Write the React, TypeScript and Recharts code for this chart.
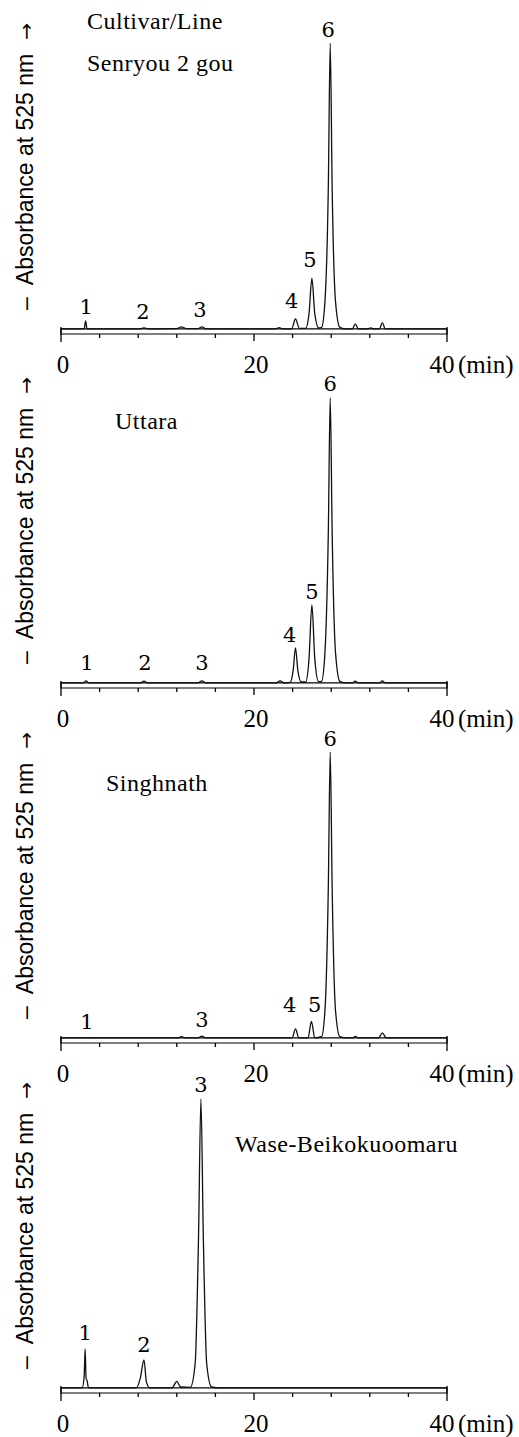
import { ComposedChart, Line, Scatter, XAxis, YAxis, ReferenceArea } from 'recharts';

const xTicks = [0, 4, 8, 12, 16, 20, 24, 28, 32, 36, 40];
const xTickLabels: Record<number, string> = { 0: '0', 20: '20', 40: '40' };
const xUnitLabel = '(min)';
const yAxisTitle = 'Absorbance at 525 nm';

// Senryou 2 gou
const senryouTime = [0, 2.4, 2.55, 2.7, 8.2, 8.6, 9.0, 12.0, 12.5, 13.0, 14.2, 14.6, 15.0, 22.2, 22.6, 23.0, 23.9, 24.3, 24.7, 25.35, 25.7, 26.0, 26.3, 26.7, 27.0, 27.35, 27.7, 27.9, 28.1, 28.45, 28.9, 29.4, 30.2, 30.5, 30.8, 31.8, 32.1, 32.4, 33.0, 33.3, 33.6, 40];
const senryouAbs = [0, 0, 2.7, 0, 0, 0.3, 0, 0.1, 0.7, 0.1, 0.1, 0.7, 0, 0, 0.4, 0, 0, 3.3, 0.2, 0.2, 5, 16.9, 5, 0.3, 0.5, 9, 47, 95.2, 47, 9, 0.5, 0, 0, 1.7, 0, 0, 0.3, 0, 0, 2.1, 0, 0];
const senryouPeakNo = ['1', '2', '3', '4', '5', '6'];
const senryouPeakTime = [2.6, 8.5, 14.4, 23.9, 25.8, 27.7];
const senryouPeakLabelY = [7.3, 5.7, 6.3, 9.3, 23, 99.7];

// Uttara
const uttaraTime = [0, 2.3, 2.6, 2.9, 8.2, 8.6, 9.0, 14.2, 14.6, 15.0, 22.3, 22.7, 23.1, 23.75, 24.05, 24.3, 24.55, 24.9, 25.35, 25.7, 26.0, 26.3, 26.7, 27.0, 27.35, 27.7, 27.9, 28.1, 28.45, 28.9, 29.4, 30.2, 30.5, 30.8, 33.0, 33.3, 33.6, 40];
const uttaraAbs = [0, 0, 0.7, 0, 0, 0.6, 0, 0, 0.7, 0, 0, 0.7, 0, 0.2, 4, 11.7, 4, 0.3, 0.3, 8, 26, 8, 0.4, 0.5, 10, 50, 95, 50, 10, 0.5, 0, 0, 0.6, 0, 0, 0.7, 0, 0];
const uttaraPeakNo = ['1', '2', '3', '4', '5', '6'];
const uttaraPeakTime = [2.7, 8.7, 14.6, 23.7, 26.0, 27.9];
const uttaraPeakLabelY = [6.7, 6.7, 6.7, 16, 30.3, 99.7];

// Singhnath
const singhnathTime = [0, 12.1, 12.5, 12.9, 14.2, 14.6, 15.0, 23.95, 24.3, 24.65, 25.6, 25.95, 26.3, 27.0, 27.35, 27.7, 27.9, 28.1, 28.45, 28.9, 29.4, 30.2, 30.5, 30.8, 32.9, 33.3, 33.7, 40];
const singhnathAbs = [0, 0, 0.4, 0, 0, 0.6, 0, 0, 3, 0, 0, 5.5, 0, 0.4, 9, 50, 95.3, 50, 9, 0.4, 0, 0, 0.5, 0, 0, 1.7, 0, 0];
const singhnathPeakNo = ['1', '3', '4', '5', '6'];
const singhnathPeakTime = [2.7, 14.6, 23.7, 26.3, 27.9];
const singhnathPeakLabelY = [5.3, 6, 11, 11, 99.7];

// Wase-Beikokuoomaru
const waseTime = [0, 2.2, 2.4, 2.5, 2.6, 2.7, 2.85, 7.8, 8.2, 8.6, 8.85, 9.2, 11.5, 12.0, 12.4, 13.4, 13.9, 14.25, 14.5, 14.75, 15.1, 15.6, 16.5, 40];
const waseAbs = [0, 0, 4, 13, 3, 2.5, 0, 0, 3, 9.3, 2, 0, 0, 2.2, 0.3, 0.2, 8, 50, 96.3, 50, 8, 0.3, 0, 0];
const wasePeakNo = ['1', '2', '3'];
const wasePeakTime = [2.5, 8.6, 14.5];
const wasePeakLabelY = [18.3, 14.3, 101];

const toRows = (t: number[], a: number[]) => t.map((v, i) => ({ t: v, a: a[i] }));
const toLabels = (ids: string[], t: number[], y: number[]) =>
  ids.map((id, i) => ({ t: t[i], y: y[i], id }));

const panels = [
  { top: 0, rows: toRows(senryouTime, senryouAbs), labels: toLabels(senryouPeakNo, senryouPeakTime, senryouPeakLabelY) },
  { top: 354, rows: toRows(uttaraTime, uttaraAbs), labels: toLabels(uttaraPeakNo, uttaraPeakTime, uttaraPeakLabelY) },
  { top: 709, rows: toRows(singhnathTime, singhnathAbs), labels: toLabels(singhnathPeakNo, singhnathPeakTime, singhnathPeakLabelY) },
  { top: 1059, rows: toRows(waseTime, waseAbs), labels: toLabels(wasePeakNo, wasePeakTime, wasePeakLabelY) },
];

const titles = [
  { text: 'Cultivar/Line', left: 87, top: 9 },
  { text: 'Senryou 2 gou', left: 87, top: 51 },
  { text: 'Uttara', left: 115, top: 409 },
  { text: 'Singhnath', left: 106, top: 771 },
  { text: 'Wase-Beikokuoomaru', left: 235, top: 1132 },
];

const serif = "'Liberation Serif', 'Times New Roman', serif";

function TimeTick(props: any) {
  const { x, y, payload } = props;
  const v = payload.value;
  const isEnd = v === 0 || v === 40;
  const len = isEnd ? 8 : v === 20 ? 7 : 4;
  const label = xTickLabels[v];
  return (
    <g>
      <line x1={x} x2={x} y1={isEnd ? y - 7 : y} y2={y + len} stroke="#000" strokeWidth={1.3} />
      {label && v !== 40 && (
        <text x={x + 2} y={y + 39} textAnchor="middle" fontFamily={serif} fontSize={25} fill="#000">
          {label}
        </text>
      )}
      {v === 40 && (
        <g>
          <text x={x - 5} y={y + 39} textAnchor="middle" fontFamily={serif} fontSize={25} fill="#000">
            {label}
          </text>
          <text x={x + 11} y={y + 39} textAnchor="start" fontFamily={serif} fontSize={25} fill="#000">
            {xUnitLabel}
          </text>
        </g>
      )}
    </g>
  );
}

function YTitle(props: any) {
  const { viewBox } = props;
  const cx = 33;
  const cy = viewBox.y + viewBox.height / 2 - 9;
  return (
    <text
      x={cx}
      y={cy}
      transform={`rotate(-90, ${cx}, ${cy})`}
      textAnchor="middle"
      fontFamily="'Liberation Sans', Arial, sans-serif"
      fontSize={23}
      fill="#000"
    >
      <tspan>–</tspan>
      <tspan dx={12}>{yAxisTitle}</tspan>
      <tspan dx={14} fontFamily="'DejaVu Sans', sans-serif" fontSize={20}>→</tspan>
    </text>
  );
}

function PeakLabel(props: any) {
  const { cx, cy, payload } = props;
  return (
    <text
      x={cx}
      y={cy}
      textAnchor="middle"
      dominantBaseline="central"
      fontFamily="'DejaVu Serif', serif"
      fontSize={21}
      fill="#000"
    >
      {payload.id}
    </text>
  );
}

export default function App() {
  return (
    <div
      style={{
        position: 'absolute',
        left: 0,
        top: 0,
        width: 519,
        height: 1437,
        background: '#fff',
        overflow: 'hidden',
      }}
    >
      {panels.map((p, i) => (
        <div key={i} style={{ position: 'absolute', left: 0, top: p.top }}>
          <ComposedChart width={519} height={384} margin={{ top: 17, right: 72, bottom: 0, left: 0 }}>
            <XAxis
              type="number"
              dataKey="t"
              domain={[0, 40]}
              ticks={xTicks}
              interval={0}
              tick={<TimeTick />}
              tickLine={false}
              axisLine={false}
              tickSize={0}
              tickMargin={0}
              height={50}
            />
            <YAxis
              type="number"
              domain={[-1.7, 104]}
              width={61}
              tick={false}
              tickLine={false}
              axisLine={false}
              label={<YTitle />}
            />
            <ReferenceArea
              x1={0}
              x2={40}
              y1={-1.7}
              y2={0}
              stroke="#000"
              strokeWidth={1.2}
              fill="none"
              fillOpacity={0}
              ifOverflow="visible"
            />
            <Line
              data={p.rows}
              dataKey="a"
              type="monotone"
              stroke="#111"
              strokeWidth={1.3}
              dot={false}
              isAnimationActive={false}
            />
            <Scatter
              data={p.labels}
              dataKey="y"
              shape={(s: any) => <PeakLabel {...s} />}
              isAnimationActive={false}
            />
          </ComposedChart>
        </div>
      ))}
      {titles.map((t) => (
        <div
          key={t.text}
          style={{
            position: 'absolute',
            left: t.left,
            top: t.top,
            fontFamily: serif,
            fontSize: 24,
            lineHeight: '24px',
            letterSpacing: 0.5,
            color: '#000',
            whiteSpace: 'nowrap',
          }}
        >
          {t.text}
        </div>
      ))}
    </div>
  );
}
